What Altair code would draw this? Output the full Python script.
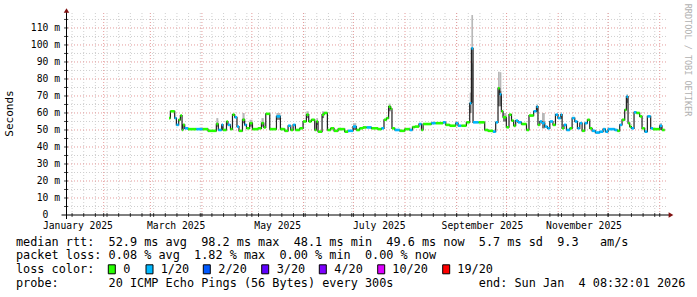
import altair as alt
import pandas as pd
from datetime import datetime, timedelta

# ---------------- data ----------------
WINDOW_START = datetime(2025, 1, 9, 8, 32, 1)
WINDOW_DAYS = 360.4

# median RTT steps: start day (days since window start), value (ms), lost pings (of 20)
SEG_DAY = [61.9, 62.7, 65.3, 66.3, 67.7, 68.7, 69.7, 70.3, 71.3, 73.3,
           78.3, 82.1, 85.3, 90.3, 91.5, 93.5, 94.3, 96.4, 97.3, 98.8,
           100.0, 101.3, 102.7, 103.9, 106.0, 107.3, 108.4, 110.3, 112.0, 115.3,
           117.4, 118.8, 120.0, 122.4, 126.4, 128.8, 131.4, 133.4, 135.0, 136.4,
           137.8, 140.4, 142.4, 144.4, 145.8, 147.4, 149.4, 150.4, 151.4, 153.8,
           155.0, 157.0, 159.0, 161.0, 163.4, 167.4, 169.4, 172.4, 174.4, 176.4,
           178.4, 180.6, 183.5, 187.4, 189.5, 191.0, 192.5, 193.8, 195.0, 195.8,
           197.5, 200.5, 203.5, 206.5, 208.1, 209.5, 212.0, 213.5, 214.5, 219.5,
           222.1, 226.5, 228.1, 230.5, 234.1, 235.5, 237.5, 240.5, 242.5, 243.5,
           244.5, 247.9, 251.5, 253.5, 256.5, 258.1, 259.5, 260.5, 261.5, 262.5,
           264.5, 266.1, 267.6, 268.9, 270.1, 271.5, 273.6, 276.6, 278.1, 280.9,
           282.6, 283.5, 284.6, 285.9, 287.6, 289.2, 290.6, 292.5, 294.0, 295.5,
           297.2, 298.0, 299.1, 300.6, 302.6, 304.0, 305.6, 307.2, 308.6, 310.0,
           311.6, 313.2, 314.6, 316.0, 318.0, 320.6, 322.6, 324.0, 325.6, 329.6,
           331.2, 332.6, 334.0, 335.6, 336.6, 337.6, 338.6, 339.6, 341.2, 342.6,
           344.6, 346.0, 347.6, 349.2, 351.2, 352.6, 356.6, 358.0]
SEG_MS = [57, 61, 57, 53, 56, 58.5, 50, 53, 51, 50.5,
          50.5, 50.5, 49.5, 53.5, 50, 53, 50, 55, 53, 50.5,
          59, 57.5, 52, 49.5, 56, 53, 51, 54, 50.5, 51,
          54, 51.5, 59.5, 50.5, 58, 50.5, 49.5, 52.5, 50, 53,
          50, 51, 55, 59, 55, 56, 50, 55, 49, 59,
          60, 50, 51, 49.5, 50.5, 49, 49.5, 52, 50, 51,
          51.5, 51.5, 51, 50.5, 51, 56, 57, 63.7, 62.5, 51,
          50, 49.5, 50.5, 50, 51.7, 52, 53.5, 50, 53.5, 54,
          54, 54.5, 53, 52.5, 54, 52.5, 52.5, 54.5, 65.7, 98,
          54.5, 54.5, 50, 49.5, 49, 54.5, 74.5, 71, 61, 57.5,
          51.6, 59, 55.5, 52.5, 55.5, 54.5, 53.5, 50, 58.5, 61,
          63.7, 53, 55, 54, 52, 51, 55, 53, 59, 57,
          59, 51, 53, 50, 51, 57, 55, 51, 54, 49.5,
          54, 56, 51, 49.5, 48.5, 49, 50.5, 49, 50.5, 50,
          49.5, 53, 56, 61.8, 69.6, 54, 52, 51, 60.4, 60,
          58, 51, 49, 58, 51, 50.5, 52.5, 50]
SEG_LOSS = [0, 0, 1, 1, 0, 0, 0, 0, 1, 0,
            1, 0, 0, 0, 1, 1, 0, 0, 1, 0,
            0, 1, 1, 0, 0, 1, 0, 0, 0, 0,
            0, 0, 0, 0, 1, 0, 0, 1, 0, 1,
            0, 0, 0, 0, 0, 0, 0, 0, 0, 0,
            0, 0, 0, 0, 0, 0, 1, 1, 0, 0,
            0, 1, 0, 0, 1, 0, 0, 0, 0, 0,
            1, 0, 0, 1, 0, 0, 1, 0, 0, 1,
            0, 1, 0, 0, 1, 1, 0, 0, 1, 1,
            1, 0, 0, 0, 1, 1, 0, 1, 0, 0,
            0, 0, 0, 0, 1, 1, 0, 0, 0, 1,
            1, 0, 1, 1, 1, 1, 1, 0, 1, 1,
            1, 0, 1, 1, 0, 1, 1, 1, 1, 0,
            1, 0, 0, 1, 1, 1, 1, 1, 1, 1,
            0, 1, 0, 0, 1, 0, 0, 1, 1, 0,
            0, 0, 1, 1, 1, 0, 1, 0]
END_DAY = 359.6

# smoke (spread of the 20 pings) where it is visible
SMOKE_FROM = [90.3, 106.0, 110.3, 117.4, 126.4, 144.4, 150.4, 153.8, 172.4, 193.8,
              242.5, 243.5, 259.5, 260.5, 262.5, 282.6, 285.9, 336.6, 356.6]
SMOKE_TO = [91.5, 107.3, 112.0, 118.8, 128.8, 145.8, 151.4, 155.0, 174.4, 195.0,
            243.5, 244.5, 260.5, 261.5, 264.5, 283.5, 287.6, 337.6, 358.0]
SMOKE_LO = [52, 54, 52, 52, 56, 57, 53, 57, 50, 61, 60, 66, 64, 64, 55, 61, 51, 66, 50]
SMOKE_HI = [57, 60, 56, 57, 60, 61, 57, 61, 54, 65.5, 72, 117.6, 84.3, 84, 60, 65, 60, 71, 54]

Y_MAX = 118.8
Y_MINOR = [5, 15, 25, 35, 45, 55, 65, 75, 85, 95, 105, 115]
Y_MAJOR = [10, 20, 30, 40, 50, 60, 70, 80, 90, 100, 110]
X_LABEL_MONTHS = [(2025, 1), (2025, 3), (2025, 5), (2025, 7), (2025, 9), (2025, 11)]
X_LABEL_TEXT = ["January 2025", "March 2025", "May 2025", "July 2025",
                "September 2025", "November 2025"]

RTT_LINE = "median rtt:  52.9 ms avg  98.2 ms max  48.1 ms min  49.6 ms now  5.7 ms sd  9.3   am/s"
LOSS_LINE = "packet loss: 0.08 % avg  1.82 % max  0.00 % min  0.00 % now"
LOSS_LEVELS = ["0", "1/20", "2/20", "3/20", "4/20", "10/20", "19/20"]
LOSS_COLORS = ["#26ff00", "#00b8ff", "#0059ff", "#5e00ff", "#7e00ff", "#dd00ff", "#ff0000"]
PROBE_LINE = "probe:       20 ICMP Echo Pings (56 Bytes) every 300s            end: Sun Jan  4 08:32:01 2026"

# ---------------- layout ----------------
W, H = 600, 202
PAD_L, PAD_T = 66, 13
MONO = "DejaVu Sans Mono"
LEG_SIZE = 11.83


def off(dt):
    return (dt - WINDOW_START).total_seconds() / 86400.0


month_starts = []
y, m = 2025, 2
while True:
    d = off(datetime(y, m, 1))
    if d > WINDOW_DAYS:
        break
    month_starts.append(d)
    m += 1
    if m == 13:
        y, m = y + 1, 1

weeks = []
t = datetime(2025, 1, 13)  # Monday
while off(t) < WINDOW_DAYS:
    weeks.append(off(t))
    t += timedelta(days=7)

label_days = [off(datetime(yy, mm, 1)) + 15.5 for yy, mm in X_LABEL_MONTHS]

xs = alt.Scale(domain=[0, WINDOW_DAYS], nice=False, zero=False)
ys = alt.Scale(domain=[0, Y_MAX], nice=False, zero=True)

seg_end = SEG_DAY[1:] + [END_DAY]
segs = pd.DataFrame({"d0": SEG_DAY, "d1": seg_end, "ms": SEG_MS,
                     "loss": [LOSS_LEVELS[0] if v == 0 else LOSS_LEVELS[1] for v in SEG_LOSS]})
line_pts = pd.DataFrame({"d": SEG_DAY + [END_DAY], "ms": SEG_MS + [SEG_MS[-1]]})
smoke = pd.DataFrame({"d0": SMOKE_FROM, "d1": SMOKE_TO, "lo": SMOKE_LO, "hi": SMOKE_HI})
smoke["mid"] = smoke["lo"] + (smoke["hi"] - smoke["lo"]) * 0.45

X = lambda f: alt.X(f, scale=xs, axis=None)
Y = lambda f: alt.Y(f, scale=ys, axis=None)

layers = []
# grid
layers.append(alt.Chart(pd.DataFrame({"d": weeks})).mark_rule(
    color="#cfcfcf", strokeDash=[1, 2], strokeWidth=1).encode(x=X("d:Q")))
layers.append(alt.Chart(pd.DataFrame({"v": Y_MINOR})).mark_rule(
    color="#cfcfcf", strokeDash=[1, 2], strokeWidth=1).encode(y=Y("v:Q")))
layers.append(alt.Chart(pd.DataFrame({"d": month_starts})).mark_rule(
    color="#e49a9a", strokeDash=[1, 2], strokeWidth=1).encode(x=X("d:Q")))
layers.append(alt.Chart(pd.DataFrame({"v": Y_MAJOR})).mark_rule(
    color="#e49a9a", strokeDash=[1, 2], strokeWidth=1).encode(y=Y("v:Q")))

# smoke: lighter outer part, darker inner part
layers.append(alt.Chart(smoke).mark_rect(color="#b8b8b8").encode(
    x=X("d0:Q"), x2="d1:Q", y=Y("lo:Q"), y2="hi:Q"))
layers.append(alt.Chart(smoke).mark_rect(color="#7a7a7a").encode(
    x=X("d0:Q"), x2="d1:Q", y=Y("lo:Q"), y2="mid:Q"))
# median step line
layers.append(alt.Chart(line_pts).mark_line(
    interpolate="step-after", color="#202020", strokeWidth=1.2).encode(x=X("d:Q"), y=Y("ms:Q")))
# loss-coloured median
layers.append(alt.Chart(segs).mark_rule(strokeWidth=2.6).encode(
    x=X("d0:Q"), x2="d1:Q", y=Y("ms:Q"),
    color=alt.Color("loss:N", scale=alt.Scale(domain=LOSS_LEVELS, range=LOSS_COLORS), legend=None)))

# axes
layers.append(alt.Chart(pd.DataFrame({"d": weeks + month_starts})).mark_rule(
    color="#444444", strokeWidth=1).encode(x=X("d:Q"), y=alt.value(H - 2), y2=alt.value(H + 2)))
layers.append(alt.Chart(pd.DataFrame({"v": Y_MINOR + Y_MAJOR})).mark_rule(
    color="#444444", strokeWidth=1).encode(y=Y("v:Q"), x=alt.value(-2), x2=alt.value(2)))
layers.append(alt.Chart(pd.DataFrame({"a": [0]})).mark_rule(color="#000000", strokeWidth=1).encode(
    x=alt.value(-4.5), x2=alt.value(603), y=alt.value(H)))
layers.append(alt.Chart(pd.DataFrame({"a": [0]})).mark_rule(color="#000000", strokeWidth=1).encode(
    x=alt.value(0.5), y=alt.value(H + 4), y2=alt.value(-1)))
layers.append(alt.Chart(pd.DataFrame({"a": [0]})).mark_point(
    shape="triangle-right", filled=True, color="#7f1010", size=30, opacity=1).encode(
    x=alt.value(605), y=alt.value(H)))
layers.append(alt.Chart(pd.DataFrame({"a": [0]})).mark_point(
    shape="triangle-up", filled=True, color="#7f1010", size=30, opacity=1).encode(
    x=alt.value(0.5), y=alt.value(-2.5)))

# axis labels
layers.append(alt.Chart(pd.DataFrame({"v": Y_MAJOR, "t": [f"{v} m" for v in Y_MAJOR]})).mark_text(
    font=MONO, fontSize=9.7, align="right", baseline="middle", color="#000000").encode(
    y=Y("v:Q"), x=alt.value(-6), text="t:N"))
layers.append(alt.Chart(pd.DataFrame({"v": [0], "t": ["0"]})).mark_text(
    font=MONO, fontSize=9.7, align="right", baseline="middle", color="#000000").encode(
    y=Y("v:Q"), x=alt.value(-17.7), text="t:N"))
layers.append(alt.Chart(pd.DataFrame({"d": label_days, "t": X_LABEL_TEXT})).mark_text(
    font=MONO, fontSize=9.7, align="center", baseline="middle", color="#000000").encode(
    x=X("d:Q"), y=alt.value(H + 10.5), text="t:N"))


def txt(s, px, py, size=LEG_SIZE, color="#000000", align="left", angle=0):
    kw = dict(font=MONO, fontSize=size, align=align, baseline="middle", color=color)
    if angle:
        kw["angle"] = angle
    return alt.Chart(pd.DataFrame({"t": [s.replace(" ", "\u00a0")]})).mark_text(**kw).encode(
        x=alt.value(px - PAD_L), y=alt.value(py - PAD_T), text="t:N")


layers.append(txt("Seconds", 10, 113.5, size=11, angle=270, align="center"))
layers.append(txt("RRDTOOL / TOBI OETIKER", 687.5, 60, size=8.5, color="#b0b0b0", angle=90, align="center"))

ROW = [241.7, 255.2, 269.3, 283.4]
layers.append(txt(RTT_LINE, 16, ROW[0]))
layers.append(txt(LOSS_LINE, 16, ROW[1]))
layers.append(txt("loss color:", 16, ROW[2]))
for s, c, bx, lx in zip(LOSS_LEVELS, LOSS_COLORS,
                        [108.3, 146, 203.3, 261.7, 319.3, 377.7, 442.7],
                        [123.3, 160.7, 218.3, 276.7, 334.3, 392.3, 457.3]):
    layers.append(alt.Chart(pd.DataFrame({"a": [0]})).mark_rect(
        color=c, stroke="#000000", strokeWidth=1).encode(
        x=alt.value(bx - PAD_L), x2=alt.value(bx + 7 - PAD_L),
        y=alt.value(ROW[2] - 4.5 - PAD_T), y2=alt.value(ROW[2] + 4.5 - PAD_T)))
    layers.append(txt(s, lx, ROW[2]))
layers.append(txt(PROBE_LINE, 16, ROW[3]))

chart = alt.layer(*layers).properties(
    width=W, height=H,
    autosize=alt.AutoSizeParams(type="none"),
    padding={"left": PAD_L, "top": PAD_T, "right": 697 - PAD_L - W, "bottom": 297 - PAD_T - H},
    background="#ffffff",
).configure_view(strokeWidth=0)

chart.save("out.html", embed_options={"renderer": "svg", "actions": False})
